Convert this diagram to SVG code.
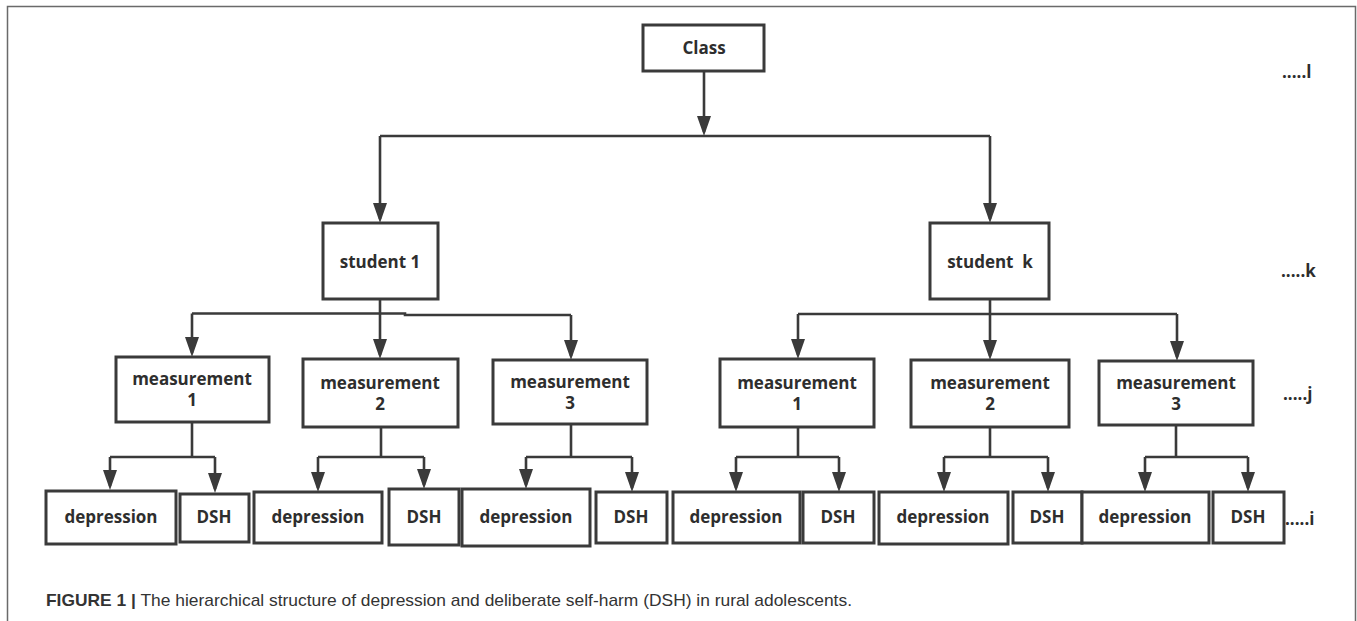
<svg xmlns="http://www.w3.org/2000/svg" width="1357" height="621" viewBox="0 0 1357 621">
<style>
.box{fill:#fff;stroke:#3a3a3a;stroke-width:3}
.t{font-family:"Open Sans","Noto Sans",sans-serif;font-weight:700;font-size:17px;fill:#2e2e2e;text-anchor:middle}
.lv{font-family:"Open Sans","Noto Sans",sans-serif;font-weight:700;font-size:17px;fill:#2e2e2e}
.c{fill:none;stroke:#3a3a3a;stroke-width:2.6}
.cap{font-family:"Liberation Sans",Arial,sans-serif;font-size:17px;fill:#333}
</style>
<defs>
<marker id="ah" viewBox="0 0 20 14" refX="16" refY="7" markerWidth="20" markerHeight="14" markerUnits="userSpaceOnUse" orient="auto">
<path d="M0,0 L20,7 L0,14 z" fill="#3a3a3a"/>
</marker>
</defs>
<rect width="1357" height="621" fill="#fff"/>
<path d="M7.5,621 V6.5 H1355.5 V621" fill="none" stroke="#6a6a6a" stroke-width="1.5"/>

<g id="connectors">
<path class="c" d="M704,71 V132" marker-end="url(#ah)"/>
<path class="c" d="M380,136 H990"/>
<path class="c" d="M380,136 V219" marker-end="url(#ah)"/>
<path class="c" d="M990,136 V219" marker-end="url(#ah)"/>
<path class="c" d="M380,299 V314"/>
<path class="c" d="M192,313.5 H405 V315 H571"/>
<path class="c" d="M192,313.5 V353" marker-end="url(#ah)"/>
<path class="c" d="M380,314 V355" marker-end="url(#ah)"/>
<path class="c" d="M571,315 V356" marker-end="url(#ah)"/>
<path class="c" d="M990,299 V314"/>
<path class="c" d="M798,314 H1177"/>
<path class="c" d="M798,314 V355" marker-end="url(#ah)"/>
<path class="c" d="M990,314 V356" marker-end="url(#ah)"/>
<path class="c" d="M1177,314 V357" marker-end="url(#ah)"/>

<path class="c" d="M192,422 V457"/>
<path class="c" d="M110,457 H215"/>
<path class="c" d="M110,457 V486" marker-end="url(#ah)"/>
<path class="c" d="M215,457 V489" marker-end="url(#ah)"/>

<path class="c" d="M381,427 V457"/>
<path class="c" d="M318,457 H424"/>
<path class="c" d="M318,457 V488" marker-end="url(#ah)"/>
<path class="c" d="M424,457 V485" marker-end="url(#ah)"/>

<path class="c" d="M571,424 V457"/>
<path class="c" d="M526,457 H632"/>
<path class="c" d="M526,457 V485" marker-end="url(#ah)"/>
<path class="c" d="M632,457 V488" marker-end="url(#ah)"/>

<path class="c" d="M798,427 V457"/>
<path class="c" d="M736,457 H839"/>
<path class="c" d="M736,457 V488" marker-end="url(#ah)"/>
<path class="c" d="M839,457 V488" marker-end="url(#ah)"/>

<path class="c" d="M990,427 V457"/>
<path class="c" d="M944,457 H1048"/>
<path class="c" d="M944,457 V488" marker-end="url(#ah)"/>
<path class="c" d="M1048,457 V488" marker-end="url(#ah)"/>

<path class="c" d="M1176,425 V457"/>
<path class="c" d="M1145,457 H1248"/>
<path class="c" d="M1145,457 V488" marker-end="url(#ah)"/>
<path class="c" d="M1248,457 V488" marker-end="url(#ah)"/>
</g>

<g id="class"><rect class="box" x="643" y="25" width="121" height="46"/><text class="t" x="704" y="54">Class</text></g>
<g id="student1"><rect class="box" x="323" y="223" width="115" height="76"/><text class="t" x="380" y="268">student 1</text></g>
<g id="studentk"><rect class="box" x="930" y="223" width="119" height="76"/><text class="t" x="990" y="268" xml:space="preserve">student  k</text></g>

<g id="s1m1"><rect class="box" x="116" y="357" width="153" height="65"/><text class="t" x="192" y="385">measurement</text><text class="t" x="192" y="406">1</text></g>
<g id="s1m2"><rect class="box" x="303" y="359" width="155" height="68"/><text class="t" x="380" y="389">measurement</text><text class="t" x="380" y="410">2</text></g>
<g id="s1m3"><rect class="box" x="493" y="360" width="154" height="64"/><text class="t" x="570" y="388">measurement</text><text class="t" x="570" y="409">3</text></g>
<g id="skm1"><rect class="box" x="720" y="359" width="154" height="68"/><text class="t" x="797" y="389">measurement</text><text class="t" x="797" y="410">1</text></g>
<g id="skm2"><rect class="box" x="911" y="360" width="158" height="67"/><text class="t" x="990" y="389">measurement</text><text class="t" x="990" y="410">2</text></g>
<g id="skm3"><rect class="box" x="1099" y="361" width="154" height="64"/><text class="t" x="1176" y="389">measurement</text><text class="t" x="1176" y="410">3</text></g>

<g id="s1m1dep"><rect class="box" x="46" y="491" width="130" height="53"/><text class="t" x="111" y="523">depression</text></g>
<g id="s1m1dsh"><rect class="box" x="180" y="494" width="69" height="48"/><text class="t" x="214" y="523">DSH</text></g>
<g id="s1m2dep"><rect class="box" x="254" y="492" width="128" height="51"/><text class="t" x="318" y="523">depression</text></g>
<g id="s1m2dsh"><rect class="box" x="389" y="489" width="70" height="56"/><text class="t" x="424" y="523">DSH</text></g>
<g id="s1m3dep"><rect class="box" x="462" y="489" width="128" height="57"/><text class="t" x="526" y="523">depression</text></g>
<g id="s1m3dsh"><rect class="box" x="596" y="492" width="71" height="51"/><text class="t" x="631" y="523">DSH</text></g>
<g id="skm1dep"><rect class="box" x="673" y="492" width="127" height="51"/><text class="t" x="736" y="523">depression</text></g>
<g id="skm1dsh"><rect class="box" x="803" y="492" width="71" height="51"/><text class="t" x="838" y="523">DSH</text></g>
<g id="skm2dep"><rect class="box" x="879" y="492" width="129" height="52"/><text class="t" x="943" y="523">depression</text></g>
<g id="skm2dsh"><rect class="box" x="1013" y="492" width="69" height="51"/><text class="t" x="1047" y="523">DSH</text></g>
<g id="skm3dep"><rect class="box" x="1082" y="492" width="127" height="51"/><text class="t" x="1145" y="523">depression</text></g>
<g id="skm3dsh"><rect class="box" x="1213" y="492" width="71" height="51"/><text class="t" x="1248" y="523">DSH</text></g>

<g id="levels">
<text class="lv" x="1282" y="78">.....l</text>
<text class="lv" x="1281" y="277">.....k</text>
<text class="lv" x="1283" y="400">.....j</text>
<text class="lv" x="1285" y="525">.....i</text>
</g>

<g id="caption">
<text class="cap" x="46" y="606" textLength="806" lengthAdjust="spacingAndGlyphs"><tspan font-weight="700">FIGURE 1 |</tspan> The hierarchical structure of depression and deliberate self-harm (DSH) in rural adolescents.</text>
</g>
</svg>
